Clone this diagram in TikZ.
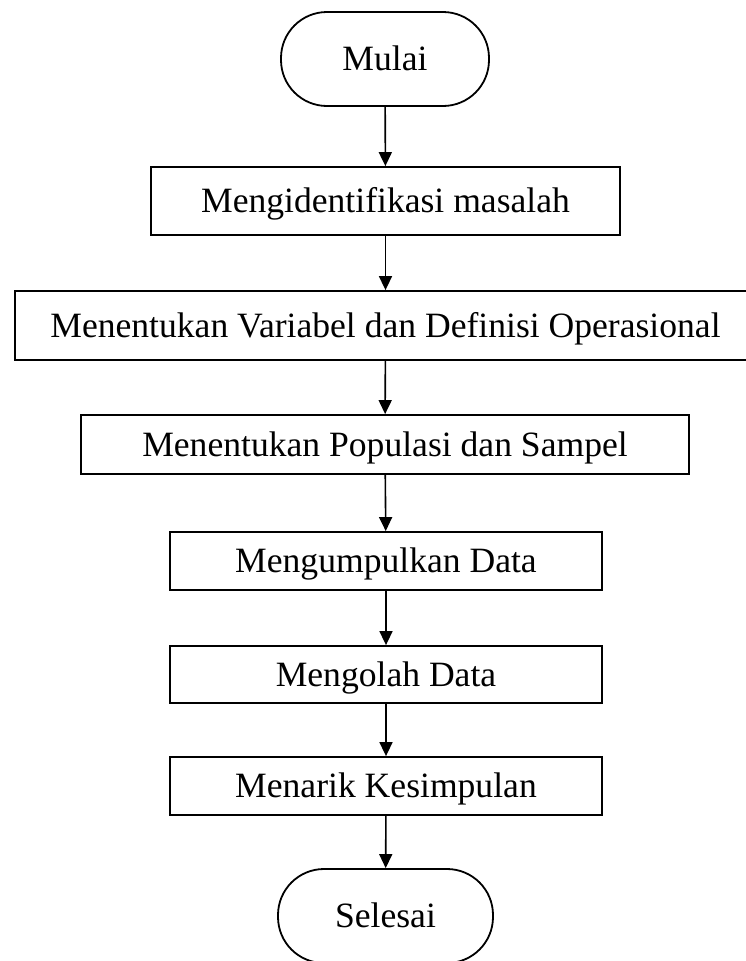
\documentclass[tikz,border=0pt]{standalone}
\usepackage{fontspec}
\setmainfont{Liberation Serif}
\usetikzlibrary{arrows.meta}

\tikzset{
  box/.style={draw, line width=1.8pt, inner sep=0pt, text height=23.3pt, text depth=0pt,
    font=\fontsize{35.6}{40}\selectfont},
  terminal/.style={box, rounded corners=46pt, minimum width=208pt, minimum height=94pt},
  arr/.style={-{Triangle[length=14pt,width=13pt]}, line width=1.6pt},
}

\begin{document}
\begin{tikzpicture}[x=1pt,y=-1pt]
\clip (0,0) rectangle (746,961);

% Start
\node[terminal] (mulai) at (385,59) {Mulai};

% Steps
\node[box, minimum width=469pt, minimum height=68pt] (identifikasi) at (385.5,201) {Mengidentifikasi masalah};
\node[box, minimum width=741pt, minimum height=69pt] (variabel) at (385.5,325.5) {Menentukan Variabel dan Definisi Operasional};
\node[box, minimum width=608pt, minimum height=59pt] (populasi) at (385,444.5) {Menentukan Populasi dan Sampel};
\node[box, minimum width=432pt, minimum height=58pt] (kumpul) at (386,561) {Mengumpulkan Data};
\node[box, minimum width=432pt, minimum height=57pt] (olah) at (386,674.5) {Mengolah Data};
\node[box, minimum width=432pt, minimum height=58pt] (simpul) at (386,786) {Menarik Kesimpulan};

% End
\node[terminal, minimum width=215pt] (selesai) at (385.5,916) {Selesai};

% Arrows
\draw[arr] (mulai) -- (identifikasi);
\draw[arr] (identifikasi) -- (variabel);
\draw[arr] (variabel) -- (populasi);
\draw[arr] (populasi) -- (kumpul);
\draw[arr] (kumpul) -- (olah);
\draw[arr] (olah) -- (simpul);
\draw[arr] (simpul) -- (selesai);
\end{tikzpicture}
\end{document}
